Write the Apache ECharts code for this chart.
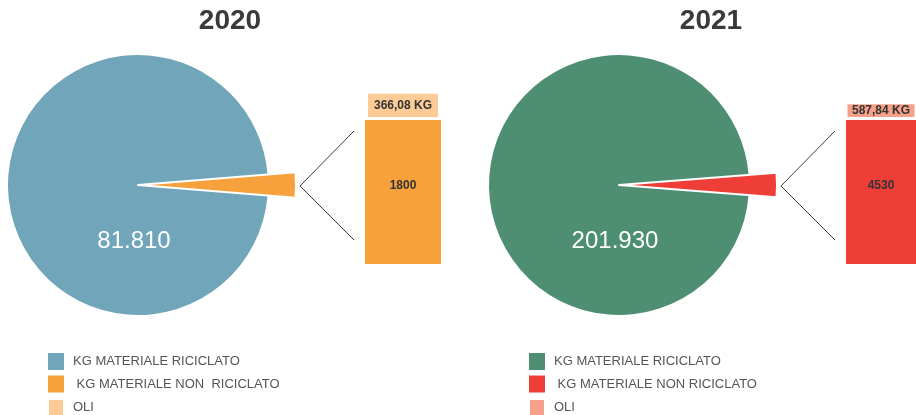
<!DOCTYPE html>
<html>
<head>
<meta charset="utf-8">
<script src="https://cdn.jsdelivr.net/npm/echarts@6/dist/echarts.min.js"></script>
<style>
  html, body { margin: 0; padding: 0; background: #ffffff; }
  #chart { width: 916px; height: 415px; }
</style>
</head>
<body>
<div id="chart"></div>
<script>
// Yearly totals, in kg
const years = ['2020', '2021'];
const recycled = [81810, 201930];          // KG MATERIALE RICICLATO
const nonRecycled = [1800, 4530];          // KG MATERIALE NON RICICLATO
const oils = [366.08, 587.84];             // OLI
const nameRecycled = 'KG MATERIALE RICICLATO';
const nameNonRecycled = [' KG MATERIALE NON  RICICLATO', ' KG MATERIALE NON RICICLATO'];
const nameOils = 'OLI';

// Palette per year: recycled, non-recycled, oils
const palettes = [
  ['#71a6ba', '#f7a13d', '#fdcc96'],
  ['#4e8f74', '#ef3e37', '#f6a28a']
];

const FONT = '"Liberation Sans", Arial, Helvetica, sans-serif';
const PANEL_SHIFT = 481;
const PIE_CX = 138, PIE_CY = 185, PIE_R = 130, SLICE_R = 158;
const BAR_LEFT = 365, BAR_W = 76, BAR_BOTTOM = 264, BAR_SPAN = 192;

const fmtThousands = v => String(Math.round(v)).replace(/\B(?=(\d{3})+(?!\d))/g, '.');
const fmtDecimal = v => v.toFixed(2).replace('.', ',');

const series = [];
const grids = [], xAxes = [], yAxes = [], legends = [], graphics = [];

years.forEach((year, i) => {
  const dx = i * PANEL_SHIFT;
  const pal = palettes[i];
  const other = nonRecycled[i] + oils[i];
  const total = recycled[i] + other;
  const sliceDeg = 360 * other / total;
  const cx = PIE_CX + dx;

  // Main pie
  series.push({
    type: 'pie',
    center: [cx, PIE_CY],
    radius: PIE_R,
    startAngle: sliceDeg / 2,
    clockwise: true,
    silent: true,
    animation: false,
    labelLine: { show: false },
    label: { show: false },
    itemStyle: { borderWidth: 0 },
    data: [
      { name: nameNonRecycled[i], value: other, itemStyle: { color: pal[1] } },
      {
        name: nameRecycled, value: recycled[i], itemStyle: { color: pal[0] },
        label: {
          show: true, position: 'center', offset: [-4, 56],
          formatter: p => fmtThousands(p.value),
          color: '#ffffff', fontSize: 24, fontFamily: FONT
        }
      }
    ]
  });

  // Pulled-out slice for the material shown in the bar
  series.push({
    type: 'pie',
    center: [cx, PIE_CY],
    radius: SLICE_R,
    startAngle: sliceDeg / 2,
    clockwise: true,
    silent: true,
    animation: false,
    label: { show: false },
    labelLine: { show: false },
    data: [
      { name: nameNonRecycled[i], value: other, itemStyle: { color: pal[1], borderColor: '#ffffff', borderWidth: 2 } },
      { name: '', value: recycled[i], itemStyle: { color: 'rgba(0,0,0,0)', borderWidth: 0 } }
    ]
  });

  // Stacked breakdown bar
  const barLeft = BAR_LEFT + dx;
  grids.push({ left: barLeft, width: BAR_W, top: BAR_BOTTOM - BAR_SPAN, height: BAR_SPAN, containLabel: false });
  xAxes.push({ type: 'category', gridIndex: i, data: [year], show: false });
  yAxes.push({ type: 'value', gridIndex: i, min: 0, max: nonRecycled[i] * 4 / 3, show: false });

  series.push({
    type: 'bar', name: nameNonRecycled[i], stack: 'b' + i,
    xAxisIndex: i, yAxisIndex: i, barWidth: BAR_W, animation: false,
    data: [nonRecycled[i]],
    itemStyle: { color: pal[1] },
    label: {
      show: true, position: 'inside', offset: [0, -6],
      formatter: p => String(p.value),
      color: '#333333', fontWeight: 'bold', fontSize: 12, fontFamily: FONT
    }
  });
  series.push({
    type: 'bar', name: nameOils, stack: 'b' + i,
    xAxisIndex: i, yAxisIndex: i, barWidth: BAR_W, animation: false,
    data: [oils[i]],
    itemStyle: { color: pal[2], borderColor: '#ffffff', borderWidth: 3 },
    label: {
      show: true, position: 'inside',
      formatter: p => fmtDecimal(p.value) + ' KG',
      color: '#333333', fontWeight: 'bold', fontSize: 12, fontFamily: FONT
    }
  });

  // Legend
  legends.push({
    orient: 'vertical', left: 47 + dx, top: 353, height: 80, padding: 0,
    icon: 'rect', itemWidth: 16, itemHeight: 17, itemGap: 5.5,
    selectedMode: false,
    textStyle: { fontSize: 13, color: '#555555', fontFamily: FONT, padding: [0, 0, 0, 4] },
    data: [
      { name: nameRecycled, itemStyle: { color: pal[0] } },
      { name: nameNonRecycled[i], itemStyle: { color: pal[1] } },
      { name: nameOils, itemStyle: { color: pal[2] } }
    ]
  });

  // Year heading
  graphics.push({
    type: 'text', x: 230 + dx, y: 21,
    style: { text: year, fill: '#3a3a3a', font: 'bold 28px ' + FONT, textAlign: 'center', textVerticalAlign: 'middle' }
  });

  // Connector from the slice to the bar
  const tipX = cx + SLICE_R + 4;
  const endX = barLeft - 11;
  graphics.push({
    type: 'polyline', silent: true,
    shape: { points: [[endX, PIE_CY - 54], [tipX, PIE_CY + 1], [endX, PIE_CY + 55]] },
    style: { stroke: '#3c3c3c', lineWidth: 1, fill: null }
  });
});

const chart = echarts.init(document.getElementById('chart'), null, { renderer: 'canvas' });
chart.setOption({
  backgroundColor: '#ffffff',
  animation: false,
  grid: grids,
  xAxis: xAxes,
  yAxis: yAxes,
  legend: legends,
  graphic: graphics,
  series: series
});
</script>
</body>
</html>
